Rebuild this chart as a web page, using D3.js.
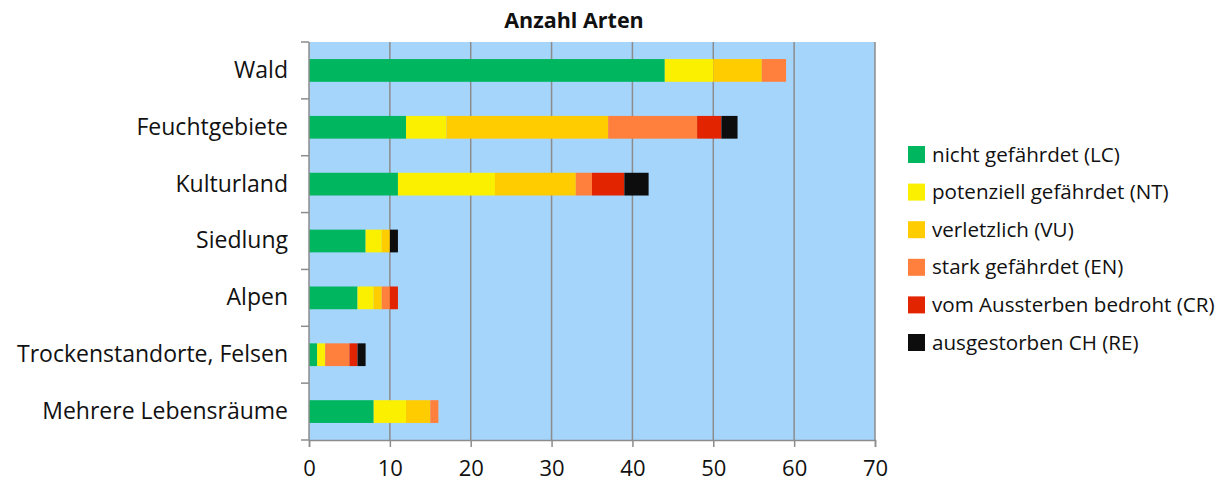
<!DOCTYPE html>
<html><head><meta charset="utf-8">
<script src="https://cdn.jsdelivr.net/npm/d3@7"></script>
<style>
body{margin:0;background:#fff;}
svg{display:block;font-family:"Open Sans",sans-serif;}
</style></head><body>
<svg id="c" width="1227" height="493"></svg>
<script>
const categories = ["Wald","Feuchtgebiete","Kulturland","Siedlung","Alpen","Trockenstandorte, Felsen","Mehrere Lebensräume"];
const seriesNames = ["nicht gefährdet (LC)","potenziell gefährdet (NT)","verletzlich (VU)","stark gefährdet (EN)","vom Aussterben bedroht (CR)","ausgestorben CH (RE)"];
const LC = [44,12,11,7,6,1,8];
const NT = [6,5,12,2,2,1,4];
const VU = [6,20,10,1,1,0,3];
const EN = [3,11,2,0,1,3,1];
const CR = [0,3,4,0,1,1,0];
const RE = [0,2,3,1,0,1,0];
const xTicks = [0,10,20,30,40,50,60,70];
const colors = ["#00B65E","#FAF000","#FFCC00","#FF7F3C","#E32400","#0D0D0D"];
const title = "Anzahl Arten";

const seriesVals = [LC,NT,VU,EN,CR,RE];
const data = categories.map((c,i)=>{const o={cat:c};seriesNames.forEach((s,j)=>o[s]=seriesVals[j][i]);return o;});
const stack = d3.stack().keys(seriesNames)(data);

const svg = d3.select("#c");
const L=309,R=875,T=42,B=440;
const x = d3.scaleLinear().domain([0,70]).range([L,R]);
const y = d3.scaleBand().domain(categories).range([T,B]).paddingInner(0.6).paddingOuter(0.3);

svg.append("rect").attr("x",L).attr("y",T).attr("width",R-L).attr("height",B-T).attr("fill","#A6D5FC");

// gridlines
svg.append("g").selectAll("line").data(xTicks.slice(1)).join("line")
  .attr("x1",d=>x(d)).attr("x2",d=>x(d)).attr("y1",T).attr("y2",B)
  .attr("stroke","#8C8C8C").attr("stroke-width",1.5);

// bars
svg.append("g").selectAll("g").data(stack).join("g").attr("fill",(d,i)=>colors[i])
  .selectAll("rect").data(d=>d).join("rect")
  .attr("x",d=>x(d[0])).attr("width",d=>x(d[1])-x(d[0]))
  .attr("y",d=>y(d.data.cat)).attr("height",y.bandwidth());

// x axis
const xa = svg.append("g").attr("transform",`translate(0,${B})`)
  .call(d3.axisBottom(x).tickValues(xTicks).tickSize(7).tickPadding(13));
xa.select(".domain").attr("stroke","#8C8C8C").attr("stroke-width",1.5);
xa.selectAll(".tick line").attr("stroke","#8C8C8C").attr("stroke-width",1.5);
xa.selectAll("text").attr("font-size",22).attr("fill","#111").attr("font-family","'Open Sans',sans-serif");

// y axis
const yStep = (B-T)/categories.length;
const ya = svg.append("g").attr("transform",`translate(${L},0)`)
  .call(d3.axisLeft(y).tickSize(0).tickPadding(21));
ya.select(".domain").attr("stroke","#8C8C8C").attr("stroke-width",1.5).attr("d",`M0,${T}V${B}`);
ya.selectAll("text").attr("font-size",23).attr("fill","#111").attr("font-family","'Open Sans',sans-serif");
svg.append("g").selectAll("line").data(d3.range(categories.length+1)).join("line")
  .attr("x1",L-8).attr("x2",L).attr("y1",d=>T+d*yStep).attr("y2",d=>T+d*yStep)
  .attr("stroke","#8C8C8C").attr("stroke-width",1.5);

// title
svg.append("text").attr("x",574).attr("y",28).attr("text-anchor","middle")
  .attr("font-weight","bold").attr("font-size",21.5).attr("fill","#111").text(title);

// legend
const lg = svg.append("g").selectAll("g").data(seriesNames).join("g")
  .attr("transform",(d,i)=>`translate(908,${146+i*37.6})`);
lg.append("rect").attr("width",17).attr("height",17).attr("fill",(d,i)=>colors[i]);
lg.append("text").attr("x",24).attr("y",15.5).attr("font-size",20.6).attr("fill","#111").text(d=>d);
</script></body></html>
